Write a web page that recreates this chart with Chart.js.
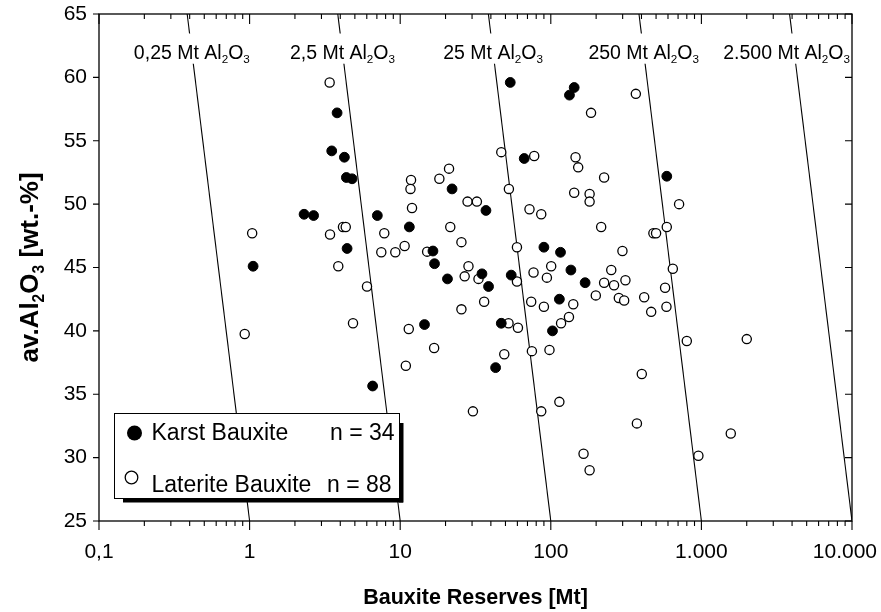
<!DOCTYPE html>
<html>
<head>
<meta charset="utf-8">
<script src="https://cdn.jsdelivr.net/npm/chart.js@4/dist/chart.umd.min.js"></script>
<style>
  html, body { margin: 0; padding: 0; background: #fff; }
</style>
</head>
<body>
<canvas id="graf" width="881" height="612"></canvas>
<script>
"use strict";

// Karst bauxite: reserves [Mt] and av. Al2O3 [wt.-%]
const karstX = [3.81, 3.51, 4.26, 4.39, 4.79, 53.8, 143, 133, 66.6, 589, 22.1, 2.30, 2.66, 7.05, 37.1, 4.44, 1.055,
  11.5, 16.5, 16.9, 20.6, 34.9, 38.6, 14.5, 43.0, 46.9, 102.6, 114, 54.6, 90.0, 116, 136, 169, 6.56];
const karstY = [57.2, 54.2, 53.7, 52.1, 52.0, 59.6, 59.2, 58.6, 53.6, 52.2, 51.2, 49.2, 49.1, 49.1, 49.5, 46.5, 45.1,
  48.2, 46.3, 45.3, 44.1, 44.5, 43.5, 40.5, 37.1, 40.6, 40.0, 42.5, 44.4, 46.6, 46.2, 44.8, 43.8, 35.65];

// Laterite bauxite
const lateritX = [3.40, 367, 185, 46.9, 77.6, 146, 152, 226, 11.8, 11.7, 18.2, 21.1, 52.7, 143, 181, 181, 28.0, 32.3,
  11.98, 21.5, 25.5, 9.28, 10.7, 15.1, 28.4, 26.8, 33.1, 36.1, 25.5, 11.4, 16.8, 10.9, 49.1, 52.4, 60.5, 74.9, 98,
  117, 132, 141, 74.1, 90, 59.6, 59.6, 76.8, 94.2, 100.6, 72.2, 86.4, 216, 299, 252, 226, 263, 313, 199, 283, 307,
  417, 464, 586, 574, 646, 480, 500, 589, 711, 402, 800, 2001, 1.04, 3.42, 4.17, 4.35, 7.84, 7.49, 3.88, 6.02, 4.86,
  0.928, 30.4, 86.4, 114, 373, 165, 181, 1567, 955];
const lateritY = [59.6, 58.7, 57.2, 54.1, 53.8, 53.7, 52.9, 52.1, 51.9, 51.2, 52.0, 52.8, 51.2, 50.9, 50.8, 50.2, 50.2,
  50.2, 49.7, 48.2, 47.0, 46.2, 46.7, 46.25, 45.1, 44.3, 44.1, 42.3, 41.7, 40.15, 38.65, 37.25, 38.15, 40.6, 40.25,
  38.4, 38.5, 40.6, 41.1, 42.1, 42.3, 41.9, 43.9, 46.6, 44.6, 44.2, 45.1, 49.6, 49.2, 48.2, 46.3, 44.8, 43.8, 43.6,
  44.0, 42.8, 42.6, 42.4, 42.65, 41.5, 41.9, 43.4, 44.9, 47.7, 47.7, 48.2, 50.0, 36.6, 39.2, 39.35, 47.7, 47.6, 48.2,
  48.2, 47.7, 46.2, 45.1, 43.5, 40.6, 39.75, 33.65, 33.65, 34.4, 32.7, 30.3, 29.0, 31.9, 30.15];

// linjer for konstant Al2O3-tonnage: x ved 65 % og ved 25 %
const isoNavne = ["0,25", "2,5", "25", "250", "2.500"];
const isoTopX = [0.385, 3.85, 38.5, 385, 3850];
const isoBundX = [1, 10, 100, 1000, 10000];

const xTickVaerdier = [0.1, 1, 10, 100, 1000, 10000];
const xTickTekster = ["0,1", "1", "10", "100", "1.000", "10.000"];
const yTickVaerdier = [25, 30, 35, 40, 45, 50, 55, 60, 65];

const FONT = '"Liberation Sans", Arial, sans-serif';

function maalRig(ctx, dele, str, fed) {
  const f = s => `${fed ? "bold " : ""}${s}px ${FONT}`;
  let bredde = 0;
  dele.forEach(([t, sub]) => { ctx.font = f(sub ? str * 0.6 : str); bredde += ctx.measureText(t).width; });
  return bredde;
}

function tegnRig(ctx, dele, x, y, str, fed, hvid) {
  const f = s => `${fed ? "bold " : ""}${s}px ${FONT}`;
  const bredde = maalRig(ctx, dele, str, fed);
  let cx = x - bredde / 2;
  if (hvid) {
    ctx.fillStyle = "#fff";
    ctx.fillRect(cx - 3, y - str * 0.95, bredde + 6, str * 1.55);
  }
  ctx.fillStyle = "#000";
  ctx.textAlign = "left";
  ctx.textBaseline = "alphabetic";
  const base = y + str * 0.36;
  dele.forEach(([t, sub]) => {
    ctx.font = f(sub ? str * 0.6 : str);
    ctx.fillText(t, cx, sub ? base + str * 0.2 : base);
    cx += ctx.measureText(t).width;
  });
}

const rammePlugin = {
  id: "ramme",
  afterDatasetsDraw(chart) {
    const ctx = chart.ctx;
    const { left, right, top, bottom } = chart.chartArea;
    const xs = chart.scales.x, ys = chart.scales.y;
    ctx.save();

    // etiketter for iso-linjerne
    const ly = ys.getPixelForValue(62.0);
    isoNavne.forEach((navn, i) => {
      const dele = [[navn + " Mt Al", false], ["2", true], ["O", false], ["3", true]];
      const x1 = xs.getPixelForValue(isoTopX[i]), y1 = ys.getPixelForValue(65);
      const x2 = xs.getPixelForValue(isoBundX[i]), y2 = ys.getPixelForValue(25);
      let lx = x1 + (x2 - x1) * (ly - y1) / (y2 - y1);
      const b = maalRig(ctx, dele, 19.5, false);
      lx = Math.min(lx, right - 2 - b / 2);
      tegnRig(ctx, dele, lx, ly, 19.5, false, true);
    });

    // ramme og tickmærker
    ctx.strokeStyle = "#000";
    ctx.lineWidth = 1.3;
    ctx.strokeRect(left, top, right - left, bottom - top);
    ctx.lineWidth = 1.1;
    ctx.beginPath();
    for (let d = 0.1; d < 10000; d *= 10) {
      for (let k = 1; k <= 10; k++) {
        const px = xs.getPixelForValue(d * k);
        const stor = k === 1 || k === 10;
        ctx.moveTo(px, bottom); ctx.lineTo(px, bottom + (stor ? 9 : 5));
        ctx.moveTo(px, top); ctx.lineTo(px, top + (stor ? 10 : 5));
      }
    }
    yTickVaerdier.forEach(v => {
      const py = ys.getPixelForValue(v);
      ctx.moveTo(left, py); ctx.lineTo(left - 6, py);
      ctx.moveTo(right, py); ctx.lineTo(right - 7, py);
    });
    ctx.stroke();

    // x-aksens tal (det sidste holdes inden for billedet)
    ctx.fillStyle = "#000";
    ctx.font = `21px ${FONT}`;
    ctx.textAlign = "center";
    ctx.textBaseline = "middle";
    xTickVaerdier.forEach((v, i) => {
      const w = ctx.measureText(xTickTekster[i]).width;
      const px = Math.min(xs.getPixelForValue(v), chart.width - 4 - w / 2);
      ctx.fillText(xTickTekster[i], px, bottom + 31);
    });

    // y-aksens titel
    ctx.save();
    ctx.translate(29, (top + bottom) / 2);
    ctx.rotate(-Math.PI / 2);
    tegnRig(ctx, [["av.Al", false], ["2", true], ["O", false], ["3", true], [" [wt.-%]", false]], 0, 0, 26, true, false);
    ctx.restore();

    // forklaring
    const bx = 114, by = 413, bw = 285, bh = 85;
    ctx.fillStyle = "#000";
    ctx.fillRect(bx + 9, by + bh, bw - 5, 4.5);
    ctx.fillRect(bx + bw, by + 10, 4.5, bh + 4.5 - 10);
    ctx.fillStyle = "#fff";
    ctx.fillRect(bx, by, bw, bh);
    ctx.lineWidth = 1;
    ctx.strokeStyle = "#000";
    ctx.strokeRect(bx + 0.5, by + 0.5, bw, bh);
    ctx.fillStyle = "#000";
    ctx.beginPath(); ctx.arc(134.5, 433, 7.5, 0, Math.PI * 2); ctx.fill();
    ctx.fillStyle = "#fff"; ctx.lineWidth = 1.3;
    ctx.beginPath(); ctx.arc(131.5, 477.5, 6.3, 0, Math.PI * 2); ctx.fill(); ctx.stroke();
    ctx.fillStyle = "#000";
    ctx.font = `23px ${FONT}`;
    ctx.textAlign = "left";
    ctx.textBaseline = "middle";
    ctx.fillText("Karst Bauxite", 151.5, 434);
    ctx.fillText("n = 34", 330, 434);
    ctx.fillText("Laterite Bauxite", 151.5, 486);
    ctx.fillText("n = 88", 327, 486);
    ctx.restore();
  }
};

const punkter = (xs, ys) => xs.map((x, i) => ({ x: x, y: ys[i] }));

const datasets = [
  { label: "Karst Bauxite", data: punkter(karstX, karstY), backgroundColor: "#000", borderColor: "#000",
    pointRadius: 4.9, borderWidth: 1 },
  { label: "Laterite Bauxite", data: punkter(lateritX, lateritY), backgroundColor: "#fff", borderColor: "#000",
    pointRadius: 4.6, borderWidth: 1.3 }
];
isoNavne.forEach((navn, i) => {
  datasets.push({ label: navn + " Mt", data: [{ x: isoTopX[i], y: 65 }, { x: isoBundX[i], y: 25 }],
    showLine: true, pointRadius: 0, borderColor: "#000", borderWidth: 1.1 });
});

new Chart(document.getElementById("graf").getContext("2d"), {
  type: "scatter",
  data: { datasets: datasets },
  options: {
    responsive: false,
    animation: false,
    devicePixelRatio: 1,
    layout: { padding: { top: 14, right: 29, left: 0, bottom: 0 } },
    plugins: { legend: { display: false }, tooltip: { enabled: false } },
    scales: {
      x: {
        type: "logarithmic", min: 0.1, max: 10000,
        afterBuildTicks: s => { s.ticks = xTickVaerdier.map(v => ({ value: v })); },
        afterFit: s => { s.height = 91; s.paddingLeft = 0; s.paddingRight = 0; },
        grid: { display: false, drawTicks: false },
        border: { display: false },
        ticks: { display: false },
        title: { display: true, text: "Bauxite Reserves [Mt]", color: "#000",
          font: { family: FONT, size: 21.5, weight: "bold" }, padding: { top: 0, bottom: 1 } }
      },
      y: {
        min: 25, max: 65,
        afterBuildTicks: s => { s.ticks = yTickVaerdier.map(v => ({ value: v })); },
        afterFit: s => { s.width = 99; s.paddingTop = 0; s.paddingBottom = 0; },
        grid: { display: false, drawTicks: false },
        border: { display: false },
        ticks: { color: "#000", font: { family: FONT, size: 21 }, padding: 12 }
      }
    }
  },
  plugins: [rammePlugin]
});
</script>
</body>
</html>
